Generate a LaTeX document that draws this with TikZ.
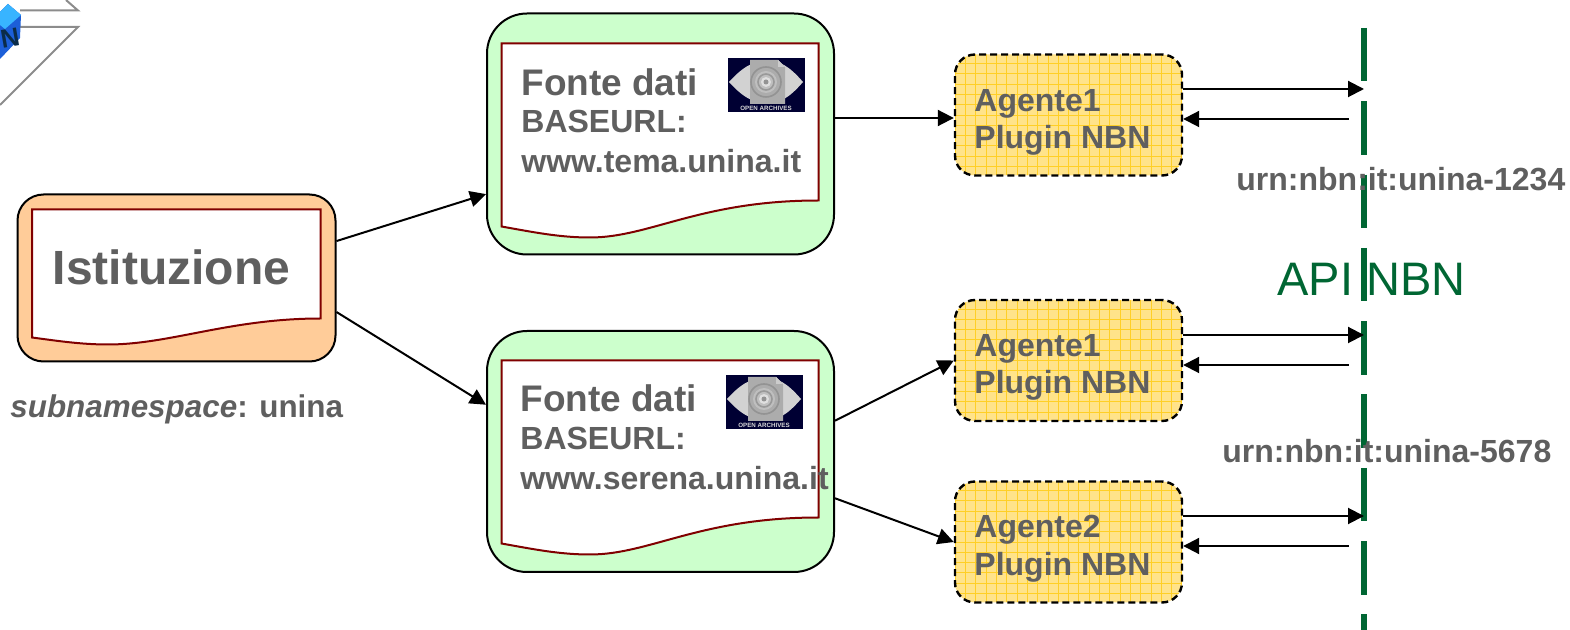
\documentclass[tikz,border=0pt]{standalone}
\usepackage{fontspec}
\setmainfont{Liberation Sans}
\usetikzlibrary{arrows.meta}
\definecolor{txtgray}{HTML}{5F5F5F}
\definecolor{apigreen}{HTML}{006633}
\definecolor{sheetred}{HTML}{800000}
\definecolor{instorange}{HTML}{FFCC99}
\definecolor{fontegreen}{HTML}{CCFFCC}
\definecolor{agentyellow}{HTML}{FFE38A}
\definecolor{gridyellow}{HTML}{FFCF26}
\definecolor{logonavy}{HTML}{000033}
\definecolor{cubeblue}{HTML}{1C5FD8}
\definecolor{cubetop}{HTML}{38B4FF}
\definecolor{cubeink}{HTML}{0B2C48}
\tikzset{
	conn/.style={draw=black, line width=1pt, -{Triangle[length=8pt,width=8pt]}},
	sheet/.style={draw=sheetred, fill=white, line width=1pt},
	instbox/.style={rectangle, draw=black, line width=1pt, fill=instorange, rounded corners=13pt, minimum width=159pt, minimum height=83.5pt},
	fontebox/.style={rectangle, draw=black, line width=1pt, fill=fontegreen, rounded corners=20pt, minimum width=173.5pt, minimum height=120.5pt},
	agentbox/.style={rectangle, draw=black, line width=1.2pt, dash pattern=on 3.5pt off 2pt, fill=agentyellow, rounded corners=10pt, minimum width=113.5pt, minimum height=60.5pt,
		path picture={\draw[gridyellow, line width=0.4pt, solid, step=5.15pt] (path picture bounding box.south west) grid (path picture bounding box.north east);}},
	lab/.style={anchor=base west, inner sep=0pt, text=txtgray, font=\fontsize{16}{18}\selectfont\bfseries},
	bigfonte/.style={lab, font=\fontsize{18.5}{20}\selectfont\bfseries},
	oailogo/.pic={
		\fill[logonavy] (0,0) rectangle (77,54);
		\fill[gray!35] (1,24) .. controls (10,14) and (18,8) .. (24,6) -- (54,6) .. controls (62,10) and (68,16) .. (75,24) .. controls (68,32) and (62,38) .. (54,42) -- (24,42) .. controls (18,40) and (10,34) .. (1,24) -- cycle;
		\fill[gray!65] (22,2) -- (50,2) -- (57,9) -- (57,46) -- (22,46) -- cycle;
		\fill[gray!40] (50,2) -- (50,9) -- (57,9) -- cycle;
		\draw[gray!85, line width=0.8pt] (38,24) circle (15);
		\fill[gray!50] (38,24) circle (11);
		\draw[gray!80, line width=0.8pt] (38,24) circle (8);
		\fill[gray!25] (38,24) circle (5);
		\fill[gray!85] (38,24) circle (2.5);
		\node[text=gray!30, font=\fontsize{3.1}{4}\selectfont\bfseries, inner sep=0pt] (-oaitext) at (38,50) {OPEN ARCHIVES};
	}
}
\begin{document}
\begin{tikzpicture}[x=0.5pt, y=-0.5pt]
	\useasboundingbox (0,0) rectangle (1570,630);
	\clip (0,0) rectangle (1570,630);
	\draw[gray!90, line width=1pt] (66,0) -- (78,10.5) -- (20,10.5);
	\draw[gray!90, line width=1pt] (20,27) -- (78,27) -- (0,105);
	\fill[cubeblue] (0,12) -- (8,4) -- (21,15) -- (20,38) -- (0,59) -- cycle;
	\fill[cubetop] (0,12) -- (8,4) -- (21,15) -- (5,29) -- (0,25) -- cycle;
	\node[inner sep=0pt, text=cubeink, rotate=10, font=\fontsize{13}{13}\selectfont\bfseries] (cubeN) at (10,38) {N};

	\node[instbox] (inst) at (176.5,278) {};
	\node[fontebox] (fonte1) at (660.5,134) {};
	\node[fontebox] (fonte2) at (660.5,451.5) {};
	\node[agentbox] (agent1) at (1068.5,115) {};
	\node[agentbox] (agent2) at (1068.5,360.5) {};
	\node[agentbox] (agent3) at (1068.5,542) {};

	\draw[sheet] (32,209.5) -- (320.5,209.5) -- (320.5,318.5) .. controls (230,318.5) and (170,344.5) .. (108,344.5) .. controls (80,344.5) and (55,340.5) .. (32,337.5) -- cycle;
	\draw[sheet] (501.5,43.5) -- (818.5,43.5) -- (818.5,200.5) .. controls (700,200.5) and (650,237.5) .. (590,237.5) .. controls (560,237.5) and (535,232.5) .. (501.5,226.5) -- cycle;
	\draw[sheet] (501.5,360.5) -- (818.5,360.5) -- (818.5,517.5) .. controls (700,517.5) and (650,554.5) .. (590,554.5) .. controls (560,554.5) and (535,549.5) .. (501.5,543.5) -- cycle;

	\pic (logo1) at (728,58) {oailogo};
	\pic (logo2) at (726,375) {oailogo};

	\node[anchor=base, inner sep=0pt, text=apigreen, font=\fontsize{23.5}{25}\selectfont] (api) at (1371.5,296) {API NBN};
	\draw[apigreen, line width=3.35pt, dash pattern=on 26.75pt off 9.9pt] (1364,28) -- (1364,630);

	\node[lab, font=\fontsize{24}{26}\selectfont\bfseries] (instlab) at (52.5,285) {Istituzione};
	\node[lab, font=\fontsize{15.7}{18}\selectfont\bfseries\itshape] (subns) at (10,418) {subnamespace\textup{: unina}};
	\node[bigfonte] (f1a) at (521,96) {Fonte dati};
	\node[lab] (f1b) at (521,133) {BASEURL:};
	\node[lab] (f1c) at (521,173) {www.tema.unina.it};
	\node[bigfonte] (f2a) at (520,412) {Fonte dati};
	\node[lab] (f2b) at (520,450) {BASEURL:};
	\node[lab] (f2c) at (520,490) {www.serena.unina.it};
	\node[lab] (a1a) at (974,112) {Agente1};
	\node[lab] (a1b) at (974,149) {Plugin NBN};
	\node[lab] (a2a) at (974,357) {Agente1};
	\node[lab] (a2b) at (974,394) {Plugin NBN};
	\node[lab] (a3a) at (974,538) {Agente2};
	\node[lab] (a3b) at (974,575) {Plugin NBN};
	\node[lab] (urn1) at (1236,191) {urn:nbn:it:unina-1234};
	\node[lab] (urn2) at (1222,463) {urn:nbn:it:unina-5678};

	\coordinate (in1) at (1364,89);
	\coordinate (out1) at (1348.5,119);
	\coordinate (in2) at (1364,335);
	\coordinate (out2) at (1348.5,365);
	\coordinate (in3) at (1364,516);
	\coordinate (out3) at (1348.5,546);
	\coordinate (link1) at (955,118);

	\draw[conn] (inst.13.8) -- (fonte1.199.4);
	\draw[conn] (inst.-12.7) -- (fonte2.165.6);
	\draw[conn] (fonte1.east |- link1) -- (agent1.west |- link1);
	\draw[conn] (fonte2.10) -- (agent2.180.8);
	\draw[conn] (fonte2.-15.4) -- (agent3.180.5);
	\draw[conn] (agent1.east |- in1) -- (in1);
	\draw[conn] (out1) -- (agent1.east |- out1);
	\draw[conn] (agent2.east |- in2) -- (in2);
	\draw[conn] (out2) -- (agent2.east |- out2);
	\draw[conn] (agent3.east |- in3) -- (in3);
	\draw[conn] (out3) -- (agent3.east |- out3);
\end{tikzpicture}
\end{document}
